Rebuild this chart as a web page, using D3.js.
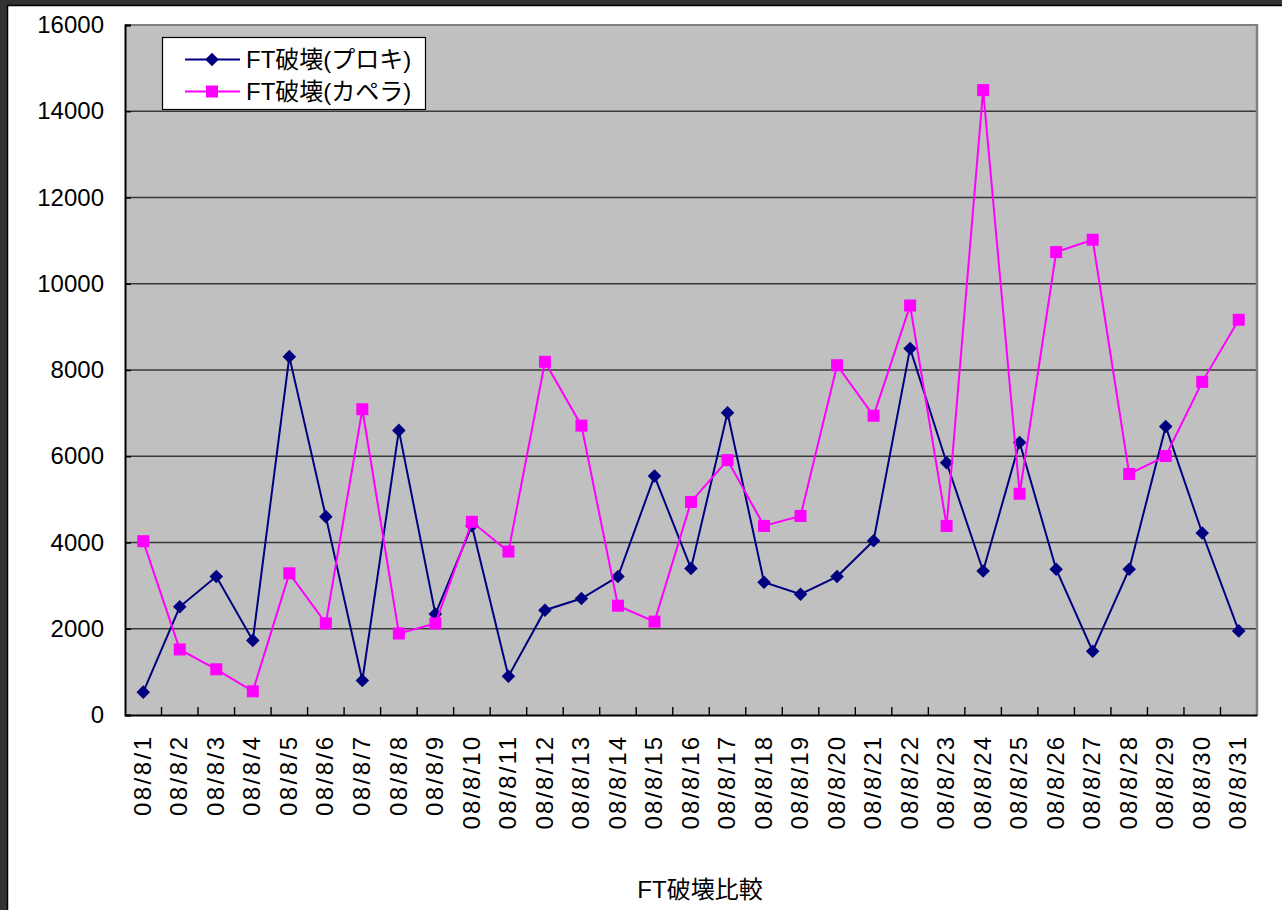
<!DOCTYPE html>
<html>
<head>
<meta charset="utf-8">
<script src="https://cdn.jsdelivr.net/npm/d3@7"></script>
<style>
html,body{margin:0;padding:0;background:#fff;}
svg{display:block;}
text{font-family:"Liberation Sans",Arial,"Noto Sans CJK JP",sans-serif;fill:#000;}
</style>
</head>
<body>
<svg id="chart" width="1282" height="910"></svg>
<script>
const categories = ["08/8/1","08/8/2","08/8/3","08/8/4","08/8/5","08/8/6","08/8/7","08/8/8","08/8/9","08/8/10",
  "08/8/11","08/8/12","08/8/13","08/8/14","08/8/15","08/8/16","08/8/17","08/8/18","08/8/19","08/8/20",
  "08/8/21","08/8/22","08/8/23","08/8/24","08/8/25","08/8/26","08/8/27","08/8/28","08/8/29","08/8/30","08/8/31"];
const seriesNames = ["FT破壊(プロキ)", "FT破壊(カペラ)"];
const proki = [530,2510,3210,1730,8310,4600,800,6600,2340,4390,
  900,2430,2700,3210,5540,3400,7010,3080,2800,3210,
  4040,8500,5850,3340,6320,3380,1480,3380,6690,4220,1950];
const capella = [4030,1520,1060,550,3285,2125,7090,1890,2125,4480,
  3790,8190,6710,2535,2165,4940,5910,4385,4615,8110,
  6940,9495,4385,14490,5130,10735,11020,5590,6005,7725,9165];
const yTicks = [0,2000,4000,6000,8000,10000,12000,14000,16000];
const chartTitle = "FT破壊比較";

const svg = d3.select("#chart");
const W = 1282, H = 910;
const m = {left:125, right:1257, top:25, bottom:715};

// outer dark frame (top & left)
svg.append("rect").attr("x",0).attr("y",0).attr("width",W).attr("height",5).attr("fill","#333");
svg.append("rect").attr("x",0).attr("y",0).attr("width",7).attr("height",H).attr("fill","#333");
svg.append("line").attr("x1",7).attr("x2",W).attr("y1",5.5).attr("y2",5.5).attr("stroke","#000").attr("stroke-width",1.5);
svg.append("line").attr("x1",7.5).attr("x2",7.5).attr("y1",5).attr("y2",H).attr("stroke","#000").attr("stroke-width",1.5);

const x = d3.scaleBand().domain(categories).range([m.left, m.right]).padding(0);
const y = d3.scaleLinear().domain([0,16000]).range([m.bottom, m.top]);

// plot background
svg.append("rect").attr("x",m.left).attr("y",m.top).attr("width",m.right-m.left).attr("height",m.bottom-m.top).attr("fill","#c0c0c0");

// gridlines
svg.append("g").selectAll("line").data(yTicks.filter(d=>d>0 && d<16000)).join("line")
  .attr("x1",m.left).attr("x2",m.right).attr("y1",d=>y(d)).attr("y2",d=>y(d))
  .attr("stroke","#3a3a3a").attr("stroke-width",1.4);
// top and right border (gray)
svg.append("line").attr("x1",m.left).attr("x2",m.right+1).attr("y1",m.top).attr("y2",m.top).attr("stroke","#808080").attr("stroke-width",2);
svg.append("line").attr("x1",m.right).attr("x2",m.right).attr("y1",m.top).attr("y2",m.bottom).attr("stroke","#808080").attr("stroke-width",2.5);

// y axis
const yAxis = d3.axisLeft(y).tickValues(yTicks).tickSize(-6).tickPadding(22).tickFormat(d3.format("d"));
const gy = svg.append("g").attr("transform",`translate(${m.left},0)`).call(yAxis);
gy.select(".domain").attr("stroke","#000").attr("stroke-width",2);
gy.selectAll(".tick line").attr("stroke","#000").attr("stroke-width",1.4);
gy.selectAll(".tick text").attr("font-size",24).attr("font-family",'"Liberation Sans",Arial,sans-serif').attr("x",-21);

// x axis
const xAxis = d3.axisBottom(x).tickSize(0).tickFormat(d=>d);
const gx = svg.append("g").attr("transform",`translate(0,${m.bottom})`).call(xAxis);
gx.select(".domain").attr("stroke","#000").attr("stroke-width",2);
gx.selectAll(".tick text")
  .attr("font-size",24)
  .attr("transform","rotate(-90)")
  .attr("text-anchor","end")
  .attr("dy","0.36em")
  .attr("x",-22)
  .attr("y",-1)
  .attr("textLength",d=>{const digits=d.replace(/\//g,"").length; return digits*13.4+2*12.7;})
  .attr("lengthAdjust","spacing");
// category boundary ticks (inward)
svg.append("g").selectAll("line").data(categories.slice(1)).join("line")
  .attr("x1",d=>x(d)).attr("x2",d=>x(d)).attr("y1",m.bottom).attr("y2",m.bottom-8)
  .attr("stroke","#000").attr("stroke-width",1.4);

const cx = d=>x(d)+x.bandwidth()/2;
const line = d3.line().x((d,i)=>cx(categories[i])).y(d=>y(d));
const dHalf = 4.8, sHalf = 6;

// series 1 (proki)
svg.append("path").datum(proki).attr("d",line).attr("fill","none").attr("stroke","#000080").attr("stroke-width",2);
svg.append("g").selectAll("rect").data(proki).join("rect")
  .attr("x",-dHalf).attr("y",-dHalf).attr("width",dHalf*2).attr("height",dHalf*2)
  .attr("fill","#000080")
  .attr("transform",(d,i)=>`translate(${cx(categories[i])},${y(d)}) rotate(45)`);

// series 2 (capella)
svg.append("path").datum(capella).attr("d",line).attr("fill","none").attr("stroke","#ff00ff").attr("stroke-width",2);
svg.append("g").selectAll("rect").data(capella).join("rect")
  .attr("x",(d,i)=>cx(categories[i])-sHalf).attr("y",d=>y(d)-sHalf).attr("width",sHalf*2).attr("height",sHalf*2)
  .attr("fill","#ff00ff");

// legend
const lg = svg.append("g");
lg.append("rect").attr("x",162.5).attr("y",37.5).attr("width",263).attr("height",72).attr("fill","#fff").attr("stroke","#000").attr("stroke-width",1.2);
const rows = [{name:seriesNames[0], color:"#000080", shape:"diamond", y:59.5},
              {name:seriesNames[1], color:"#ff00ff", shape:"square", y:91.5}];
rows.forEach(r=>{
  lg.append("line").attr("x1",185).attr("x2",240).attr("y1",r.y).attr("y2",r.y).attr("stroke",r.color).attr("stroke-width",2);
  if(r.shape==="diamond"){
    lg.append("rect").attr("x",-dHalf).attr("y",-dHalf).attr("width",dHalf*2).attr("height",dHalf*2).attr("fill",r.color)
      .attr("transform",`translate(212,${r.y}) rotate(45)`);
  } else {
    lg.append("rect").attr("x",212-sHalf).attr("y",r.y-sHalf).attr("width",sHalf*2).attr("height",sHalf*2).attr("fill",r.color);
  }
  lg.append("text").attr("x",246).attr("y",r.y).attr("dy","0.35em").attr("font-size",24).text(r.name);
});

// title
svg.append("text").attr("x",700).attr("y",890).attr("dy","0.35em").attr("text-anchor","middle").attr("font-size",24).text(chartTitle);
</script>
</body>
</html>
